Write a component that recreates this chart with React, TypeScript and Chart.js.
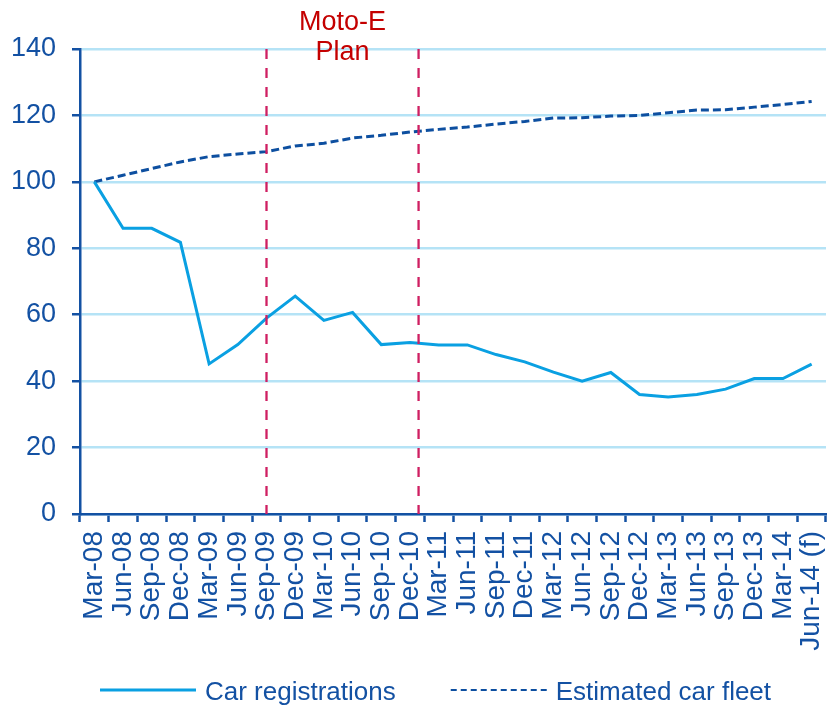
import React, { useEffect, useRef } from "react";
import { Chart, registerables } from "chart.js";

Chart.register(...registerables);

// Quarterly index, Mar-08 = 100
const categories = [
  "Mar-08", "Jun-08", "Sep-08", "Dec-08",
  "Mar-09", "Jun-09", "Sep-09", "Dec-09",
  "Mar-10", "Jun-10", "Sep-10", "Dec-10",
  "Mar-11", "Jun-11", "Sep-11", "Dec-11",
  "Mar-12", "Jun-12", "Sep-12", "Dec-12",
  "Mar-13", "Jun-13", "Sep-13", "Dec-13",
  "Mar-14", "Jun-14 (f)",
];

const carRegistrations = [
  100, 86, 86, 81.8,
  45.2, 51, 59, 65.6,
  58.3, 60.7, 51, 51.6,
  50.9, 50.9, 48, 45.8,
  42.7, 40, 42.6, 36,
  35.2, 36, 37.6, 40.8,
  40.8, 45.1,
];

const estimatedCarFleet = [
  100, 102, 104, 106,
  107.6, 108.4, 109.1, 110.8,
  111.6, 113.2, 114, 115,
  115.8, 116.5, 117.4, 118.2,
  119.2, 119.3, 119.8, 120,
  120.8, 121.6, 121.7, 122.5,
  123.3, 124.2,
];

const yTicks = [0, 20, 40, 60, 80, 100, 120, 140];

// Plan period boundaries, as positions on the category axis
const planStart = 6; // Sep-09
const planEnd = 11.3; // end of Dec-10
const planLabel = ["Moto-E", "Plan"];

const DARK_BLUE = "#1351a3";
const LIGHT_BLUE = "#0aa0e2";
const FLEET_BLUE = "#0d4fa0";
const GRID_BLUE = "#b5e3f6";
const MARKER_RED = "#cf1f62";
const LABEL_RED = "#c40000";
const FONT = "'Liberation Sans', Arial, sans-serif";

const planMarkers = {
  id: "planMarkers",
  afterDatasetsDraw(chart: any) {
    const { ctx, chartArea, scales } = chart;
    const x = scales.x;
    const xs = [planStart, planEnd].map((v) => x.getPixelForValue(v));
    ctx.save();
    ctx.strokeStyle = MARKER_RED;
    ctx.lineWidth = 2.3;
    ctx.setLineDash([10, 9]);
    xs.forEach((px) => {
      ctx.beginPath();
      ctx.moveTo(px, chartArea.top);
      ctx.lineTo(px, chartArea.bottom);
      ctx.stroke();
    });
    ctx.setLineDash([]);
    ctx.fillStyle = LABEL_RED;
    ctx.font = `27px ${FONT}`;
    ctx.textAlign = "center";
    ctx.textBaseline = "alphabetic";
    const mid = (xs[0] + xs[1]) / 2;
    ctx.fillText(planLabel[0], mid, 30);
    ctx.fillText(planLabel[1], mid, 60);
    ctx.restore();
  },
};

const bottomLegend = {
  id: "bottomLegend",
  afterDraw(chart: any) {
    const { ctx } = chart;
    const left = 100;
    const sample = 96;
    const textGap = 9;
    const itemGap = 55;
    const lineY = 690;
    const baseY = 700;
    let x = left;
    ctx.save();
    ctx.font = `26px ${FONT}`;
    ctx.textBaseline = "alphabetic";
    ctx.textAlign = "left";
    chart.data.datasets.forEach((ds: any) => {
      const dashed = ds.borderDash && ds.borderDash.length;
      ctx.strokeStyle = ds.borderColor;
      ctx.lineWidth = dashed ? 2.2 : 3;
      ctx.setLineDash(dashed ? [6, 4] : []);
      ctx.beginPath();
      ctx.moveTo(x, lineY);
      ctx.lineTo(x + sample, lineY);
      ctx.stroke();
      ctx.setLineDash([]);
      x += sample + textGap;
      ctx.fillStyle = DARK_BLUE;
      ctx.fillText(ds.label, x, baseY);
      x += ctx.measureText(ds.label).width + itemGap;
    });
    ctx.restore();
  },
};

export default function App() {
  const canvasRef = useRef<HTMLCanvasElement | null>(null);

  useEffect(() => {
    if (!canvasRef.current) return;
    const chart = new Chart(canvasRef.current, {
      type: "line",
      data: {
        labels: categories,
        datasets: [
          {
            label: "Car registrations",
            data: carRegistrations,
            borderColor: LIGHT_BLUE,
            backgroundColor: LIGHT_BLUE,
            borderWidth: 3,
            pointRadius: 0,
            tension: 0,
          },
          {
            label: "Estimated car fleet",
            data: estimatedCarFleet,
            borderColor: FLEET_BLUE,
            backgroundColor: FLEET_BLUE,
            borderWidth: 3,
            borderDash: [8, 4],
            pointRadius: 0,
            tension: 0,
          },
        ],
      },
      options: {
        animation: false,
        responsive: false,
        layout: { padding: { top: 49, right: 5, left: 0, bottom: 0 } },
        plugins: {
          legend: { display: false },
          tooltip: { enabled: false },
        },
        scales: {
          x: {
            type: "category",
            offset: true,
            grid: {
              offset: true,
              drawOnChartArea: false,
              drawTicks: true,
              tickLength: 8,
              tickColor: DARK_BLUE,
              tickWidth: 2.5,
            },
            border: { color: DARK_BLUE, width: 2.5 },
            ticks: {
              autoSkip: false,
              minRotation: 90,
              maxRotation: 90,
              padding: 9,
              color: DARK_BLUE,
              font: { family: FONT, size: 28 },
            },
            afterFit(scale: any) {
              scale.height = 194;
              scale.paddingLeft = 0;
              scale.paddingRight = 0;
            },
          },
          y: {
            min: 0,
            max: 140,
            afterBuildTicks(scale: any) {
              scale.ticks = yTicks.map((v) => ({ value: v }));
            },
            grid: {
              color: GRID_BLUE,
              lineWidth: 2.5,
              tickLength: 8,
              tickColor: DARK_BLUE,
              tickWidth: 2.5,
            },
            border: { color: DARK_BLUE, width: 2.5 },
            ticks: {
              padding: 16,
              color: DARK_BLUE,
              font: { family: FONT, size: 27 },
            },
            afterFit(scale: any) {
              scale.width = 80;
              scale.paddingTop = 0;
              scale.paddingBottom = 0;
            },
          },
        },
      },
      plugins: [planMarkers, bottomLegend],
    });
    return () => chart.destroy();
  }, []);

  return (
    <div style={{ position: "absolute", left: 0, top: 0, width: 831, height: 708, background: "#fff" }}>
      <canvas ref={canvasRef} width={831} height={708} style={{ display: "block" }} />
    </div>
  );
}
